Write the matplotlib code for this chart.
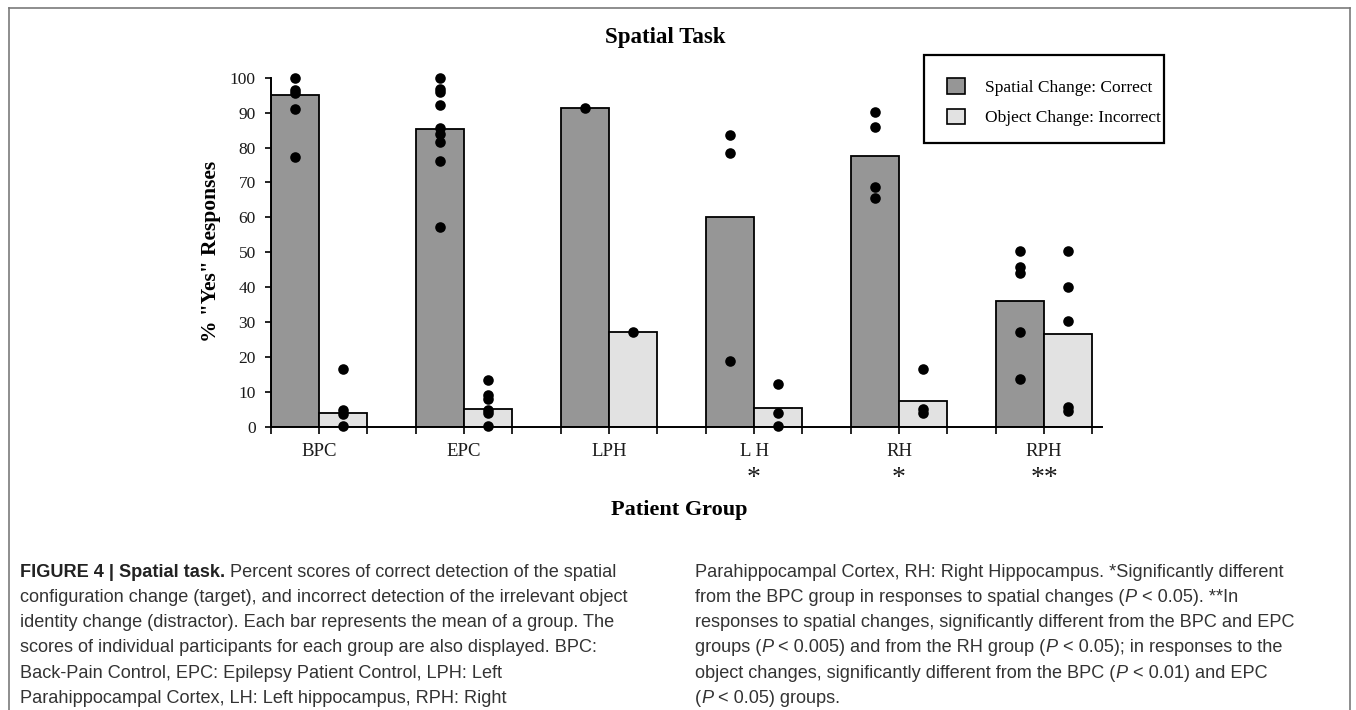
import numpy as np
import matplotlib
matplotlib.use("Agg")
import matplotlib.pyplot as plt
from matplotlib.patches import Patch, Rectangle
from matplotlib.lines import Line2D

# ---- data ----
groups = ["BPC", "EPC", "LPH", "L H", "RH", "RPH"]
stars = ["", "", "", "*", "*", "**"]
series_names = ["Spatial Change: Correct", "Object Change: Incorrect"]

spatial_mean = [95.0, 85.2, 91.4, 60.0, 77.6, 35.9]
object_mean = [4.0, 5.1, 27.2, 5.5, 7.4, 26.6]

spatial_pts = [
    [100, 96.5, 95.5, 91, 77.2],
    [100, 96.8, 95.8, 92.2, 85.5, 83.8, 81.7, 76, 57.3],
    [91.2],
    [83.6, 78.3, 18.8],
    [90.1, 86.0, 68.8, 65.4],
    [50.4, 45.7, 43.9, 27.0, 13.8],
]
object_pts = [
    [16.4, 4.8, 3.6, 0.2],
    [13.4, 9.0, 8.0, 4.8, 3.8, 0.2],
    [27.2],
    [12.1, 4.0, 0.2],
    [16.4, 5.0, 3.8],
    [50.4, 39.9, 30.4, 5.7, 4.6],
]

yticks = list(range(0, 101, 10))

W, H = 1356, 710
DARK = "#969696"
LIGHT = "#e2e2e2"
SERIF = "Liberation Serif"
SANS = "Liberation Sans"
CAP = "#333333"


def fx(x):
    return x / W


def fy(y):
    return 1 - y / H


fig = plt.figure(figsize=(W / 100, H / 100), dpi=100)

# outer frame (bottom edge runs off the image)
for xs, ys in [([8.5, 8.5], [H + 5, 7.5]), ([8.5, 1349.5], [7.5, 7.5]),
               ([1349.5, 1349.5], [7.5, H + 5])]:
    fig.add_artist(Line2D([fx(v) for v in xs], [fy(v) for v in ys],
                          color="#7a7a7a", lw=1.2, transform=fig.transFigure))

# ---- chart ----
slot = 48.35
ax = fig.add_axes([fx(270.5), fy(426.7), 17.2 * slot / W, 349 / H])

pos = np.arange(len(groups)) * 3
ax.bar(pos + 0.5, spatial_mean, width=1, color=DARK, edgecolor="black", linewidth=1.3, zorder=2)
ax.bar(pos + 1.5, object_mean, width=1, color=LIGHT, edgecolor="black", linewidth=1.3, zorder=2)

for i in range(len(groups)):
    ax.scatter([pos[i] + 0.5] * len(spatial_pts[i]), spatial_pts[i], s=58, color="black",
               zorder=4, clip_on=False, linewidths=0)
    ax.scatter([pos[i] + 1.5] * len(object_pts[i]), object_pts[i], s=58, color="black",
               zorder=4, clip_on=False, linewidths=0)

ax.set_xlim(0, 17.2)
ax.set_ylim(0, 100)
ax.set_yticks(yticks)
ax.set_yticklabels([str(v) for v in yticks], fontfamily=SERIF, fontsize=12.5, color="#1a1a1a")
ax.xaxis.remove_overlapping_locs = False
ax.set_xticks(range(18))
ax.set_xticklabels([])
ax.set_xticks(pos + 1, minor=True)
ax.set_xticklabels(groups, minor=True, fontfamily=SERIF, fontsize=13.5, color="#1a1a1a")
ax.tick_params(axis="x", which="major", length=5, width=1.2, direction="out")
ax.tick_params(axis="x", which="minor", length=0, pad=11.5)
ax.tick_params(axis="y", length=4, width=1.2, direction="out", pad=6.5)
for s in ["top", "right"]:
    ax.spines[s].set_visible(False)
for s in ["left", "bottom"]:
    ax.spines[s].set_linewidth(1.4)

for i, st in enumerate(stars):
    if st:
        ax.text(pos[i] + 1, -0.148, st, transform=ax.get_xaxis_transform(),
                ha="center", va="center", fontfamily=SERIF, fontsize=20, color="#1a1a1a")

fig.text(fx(665), fy(43), "Spatial Task", ha="center", va="baseline",
         fontfamily=SERIF, fontweight="bold", fontsize=16.5)
fig.text(fx(679), fy(515), "Patient Group", ha="center", va="baseline",
         fontfamily=SERIF, fontweight="bold", fontsize=16)
fig.text(fx(211), fy(251), '% "Yes" Responses', rotation=90, ha="center", va="center",
         fontfamily=SERIF, fontweight="bold", fontsize=15.5)

# legend with a hand-drawn box
fig.add_artist(Rectangle((fx(924), fy(143.3)), 240 / W, 88.3 / H, fill=False,
                         lw=1.6, ec="black", transform=fig.transFigure))
handles = [Patch(fc=DARK, ec="black", lw=1.2), Patch(fc=LIGHT, ec="black", lw=1.2)]
fig.legend(handles, series_names, loc="upper left", bbox_to_anchor=(fx(946.7), fy(78.5)),
           frameon=False, borderpad=0, borderaxespad=0, handlelength=1.05, handleheight=1.0,
           handletextpad=1.15, labelspacing=0.72, prop={"family": SERIF, "size": 12.5})

# ---- caption ----
reg = {"family": SANS, "size": 13.1, "color": CAP}
bold = dict(reg, weight="bold", color="#222222")
ital = dict(reg, style="italic")

left_lines = [
    [("FIGURE 4 | Spatial task.", bold), (" Percent scores of correct detection of the spatial", reg)],
    [("configuration change (target), and incorrect detection of the irrelevant object", reg)],
    [("identity change (distractor). Each bar represents the mean of a group. The", reg)],
    [("scores of individual participants for each group are also displayed. BPC:", reg)],
    [("Back-Pain Control, EPC: Epilepsy Patient Control, LPH: Left", reg)],
    [("Parahippocampal Cortex, LH: Left hippocampus, RPH: Right", reg)],
]
right_lines = [
    [("Parahippocampal Cortex, RH: Right Hippocampus. *Significantly different", reg)],
    [("from the BPC group in responses to spatial changes (", reg), ("P", ital), (" < 0.05). **In", reg)],
    [("responses to spatial changes, significantly different from the BPC and EPC", reg)],
    [("groups (", reg), ("P", ital), (" < 0.005) and from the RH group (", reg), ("P", ital),
     (" < 0.05); in responses to the", reg)],
    [("object changes, significantly different from the BPC (", reg), ("P", ital), (" < 0.01) and EPC", reg)],
    [("(", reg), ("P", ital), (" < 0.05) groups.", reg)],
]

renderer = fig.canvas.get_renderer()


def run_width(txt, props):
    # measure with a sentinel so that trailing spaces count
    a = fig.text(0, 0, txt + "|", **props)
    b = fig.text(0, 0, "|", **props)
    w = a.get_window_extent(renderer).width - b.get_window_extent(renderer).width
    a.remove()
    b.remove()
    return w


def draw_line(x, y, runs):
    for txt, props in runs:
        fig.text(fx(x), fy(y), txt, ha="left", va="baseline", **props)
        x += run_width(txt, props)


baselines = [576.7, 602.0, 627.2, 652.4, 677.6, 702.8]
for yb, runs in zip(baselines, left_lines):
    draw_line(20, yb, runs)
for yb, runs in zip(baselines, right_lines):
    draw_line(695, yb, runs)

fig.savefig("out.png", dpi=100)
